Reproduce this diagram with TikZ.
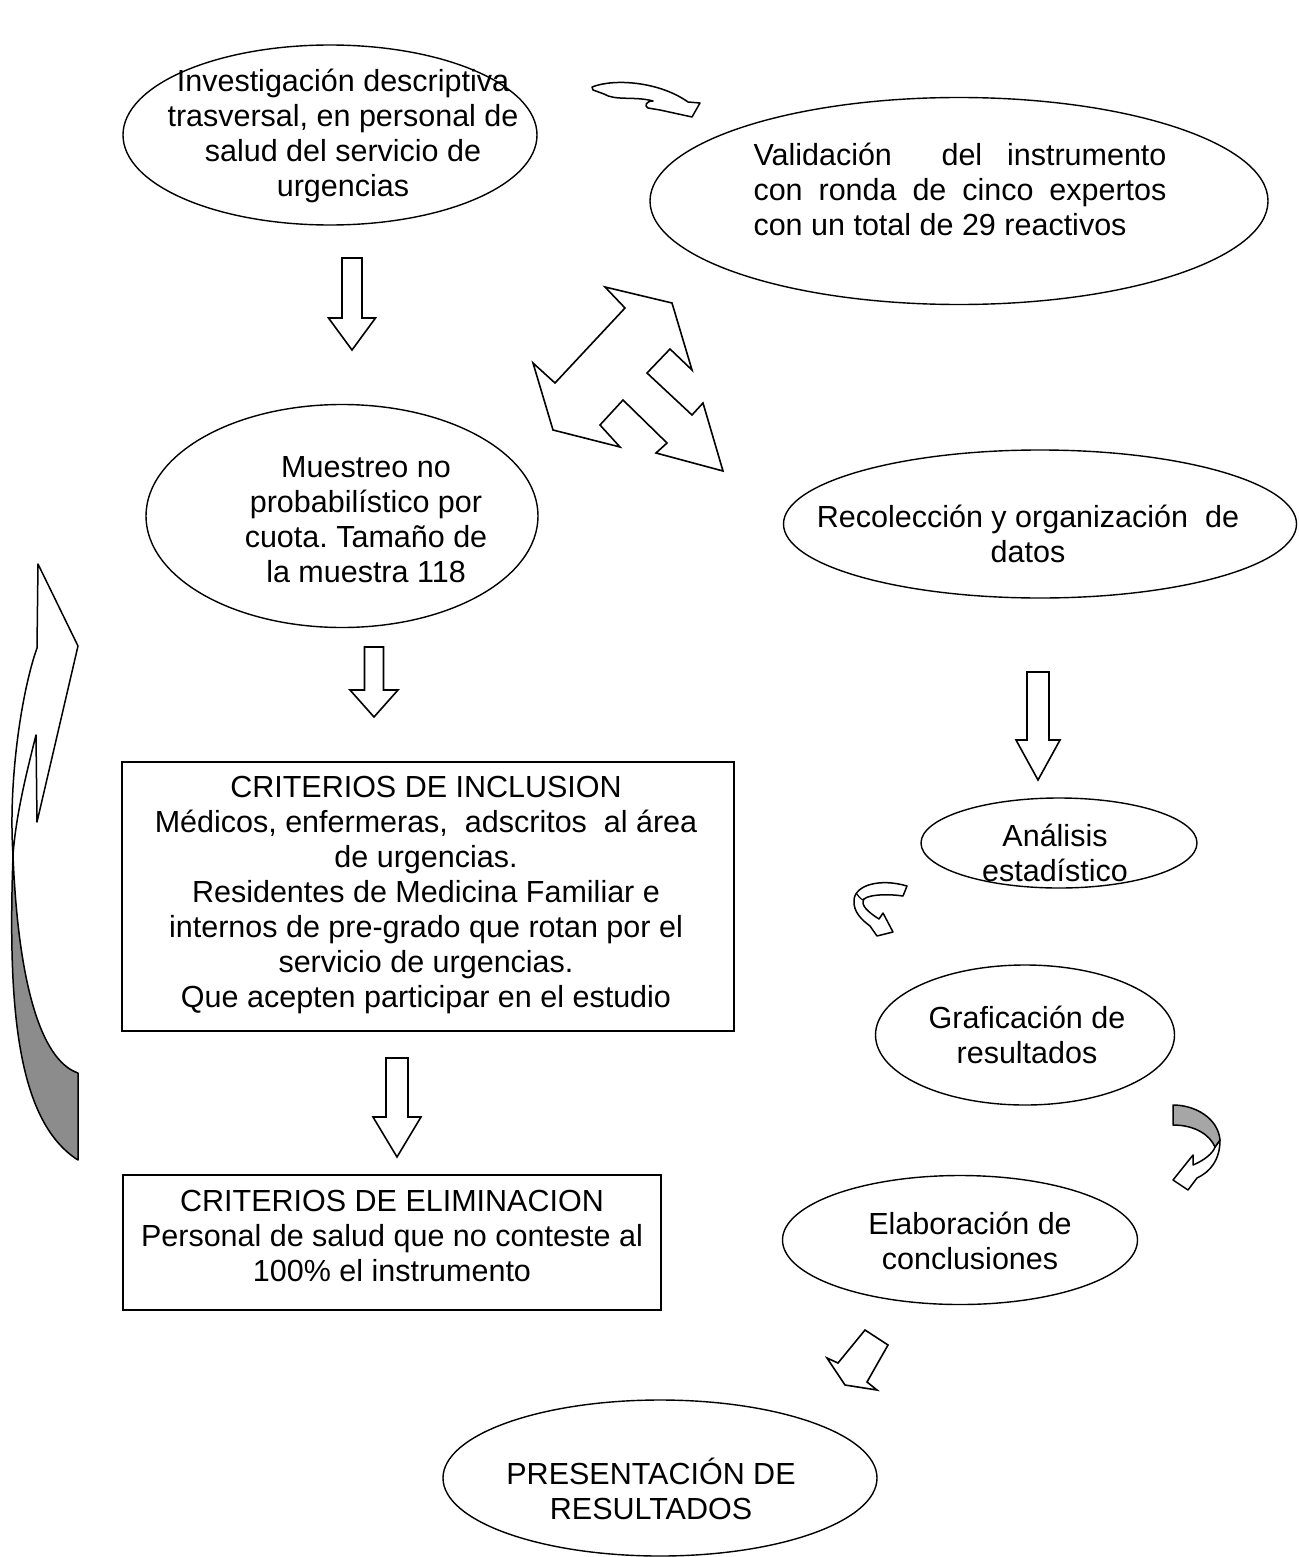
\documentclass[tikz,border=0pt]{standalone}
\usepackage{fontspec}
\setmainfont{Liberation Sans}
\frenchspacing
\usetikzlibrary{shapes.geometric}
\tikzset{
 ell/.style={draw, ellipse, line width=1.4pt, inner sep=0pt},
 box/.style={draw, rectangle, line width=1.4pt, inner sep=0pt},
 txt/.style={font=\fontsize{30.5}{35}\selectfont, align=center, inner sep=0pt},
 blk/.style={draw, line width=1.6pt, line join=miter, fill=white},
 ribbon/.style={draw, line width=1.5pt, line join=round, fill=white},
 shade/.style={draw, line width=1.5pt, line join=round, fill=black!45},
}
\newcommand{\downblock}[6]{%
 \draw[blk] (#1-#5,#2) -- (#1+#5,#2) -- (#1+#5,#3) -- (#1+#6,#3) -- (#1,#4) -- (#1-#6,#3) -- (#1-#5,#3) -- cycle;}
\begin{document}
\begin{tikzpicture}[x=1pt,y=-1pt]
\useasboundingbox (0,0) rectangle (1298,1557);
\fill[white] (0,0) rectangle (1298,1557);

% nodes
\node[ell, minimum width=414pt, minimum height=180pt] (inv) at (330,135) {};
\node[txt] (invt) at (343,136) {Investigación descriptiva\\trasversal, en personal de\\salud del servicio de\\urgencias};
\node[ell, minimum width=618pt, minimum height=207pt] (val) at (959,201) {};
\node[txt, align=left] (valt) at (960,189) {\makebox[413pt][l]{Validación\hfill\hfill del\hfill instrumento}\\\makebox[413pt][s]{con ronda de cinco expertos}\\con un total de 29 reactivos};
\node[ell, minimum width=392pt, minimum height=223pt] (mue) at (342,516) {};
\node[txt] (muet) at (366,520) {Muestreo no\\probabilístico por\\cuota. Tamaño de\\la muestra 118};
\node[ell, minimum width=513pt, minimum height=148pt] (rec) at (1040,524) {};
\node[txt] (rect) at (1028,534) {Recolección y organización\ \ de\\datos};
\node[box, minimum width=612pt, minimum height=269pt] (inc) at (428,896.5) {};
\node[txt] (inct) at (426,895) {CRITERIOS DE INCLUSION\\Médicos, enfermeras,\ \ adscritos\ \ al área\\de urgencias.\\Residentes de Medicina Familiar e\\internos de pre-grado que rotan por el\\servicio de urgencias.\\Que acepten participar en el estudio};
\node[box, minimum width=538pt, minimum height=135pt] (eli) at (392,1242.5) {};
\node[txt] (elit) at (392,1236) {CRITERIOS DE ELIMINACION\\Personal de salud que no conteste al\\100\% el instrumento};
\node[ell, minimum width=276pt, minimum height=90pt] (ana) at (1059,843) {};
\node[txt] (anat) at (1055,853) {Análisis\\estadístico};
\node[ell, minimum width=299pt, minimum height=140pt] (gra) at (1025,1035) {};
\node[txt] (grat) at (1027,1035) {Graficación de\\resultados};
\node[ell, minimum width=355pt, minimum height=129pt] (ela) at (960,1240) {};
\node[txt] (elat) at (970,1241) {Elaboración de\\conclusiones};
\node[ell, minimum width=434pt, minimum height=156pt] (pre) at (660,1478) {};
\node[txt] (pret) at (651,1489) {PRESENTACIÓN DE\\RESULTADOS};

% straight block arrows
\downblock{352}{258}{318}{350}{10}{23.5}
\downblock{374}{647}{690}{717}{9.5}{24}
\downblock{1038}{672}{740}{780}{11}{22}
\downblock{397}{1058}{1117}{1157}{11}{24}

% diagonal block arrow
\draw[blk] (865,1330) -- (838,1363) -- (827,1358) -- (845,1385) -- (877,1390) -- (867,1382) -- (888,1345) -- cycle;

% three-way arrow
\draw[blk] (605,287) -- (625,308) -- (555,383) -- (533,363) -- (553,430) -- (620,447) -- (600,425)
 -- (623,400) -- (667,443) -- (656,453) -- (723,471) -- (703,403) -- (692,415) -- (647,373)
 -- (670,349) -- (692,370) -- (672,303) -- cycle;

% top curved arrow
\draw[ribbon] (592,87) .. controls (615,78) and (660,82) .. (688,102) -- (700,103) -- (692,117) -- (660,110)
 -- (648,108) .. controls (644,106) and (646,101) .. (653,101) .. controls (635,96) and (615,101) .. (604,94)
 -- (593,90) -- cycle;

% small curved arrow near Analisis
\draw[ribbon] (907,886) .. controls (880,878) and (855,885) .. (854,900)
 .. controls (853,912) and (862,920) .. (870,926) -- (877,936) -- (893,932) -- (883,913) -- (879,919)
 .. controls (868,912) and (860,905) .. (864,899) .. controls (870,894) and (890,894) .. (903,896) -- cycle;
\draw[line width=1.2pt] (856,893) .. controls (860,898) and (862,901) .. (864,899);

% gray curved arrow near Graficacion
\draw[ribbon] (1220,1140) .. controls (1220,1160) and (1210,1172) .. (1197,1178) -- (1188,1190) -- (1173,1180)
 -- (1193,1155) -- (1193,1165) .. controls (1205,1160) and (1213,1153) .. (1215,1147) -- cycle;
\draw[shade, fill=black!35] (1173,1105) .. controls (1195,1105) and (1218,1118) .. (1220,1140) -- (1215,1147)
 .. controls (1210,1135) and (1195,1125) .. (1173,1125) -- cycle;

% big left curved arrow
\draw[ribbon] (38,564) -- (78,646) -- (37,822) -- (36,735) .. controls (26,775) and (16,815) .. (13,855)
 .. controls (8,780) and (22,690) .. (37,648) -- cycle;
\draw[shade] (13,855) .. controls (8,1000) and (15,1120) .. (78,1160) -- (78,1073)
 .. controls (40,1060) and (18,980) .. (13,855) -- cycle;
\end{tikzpicture}
\end{document}
